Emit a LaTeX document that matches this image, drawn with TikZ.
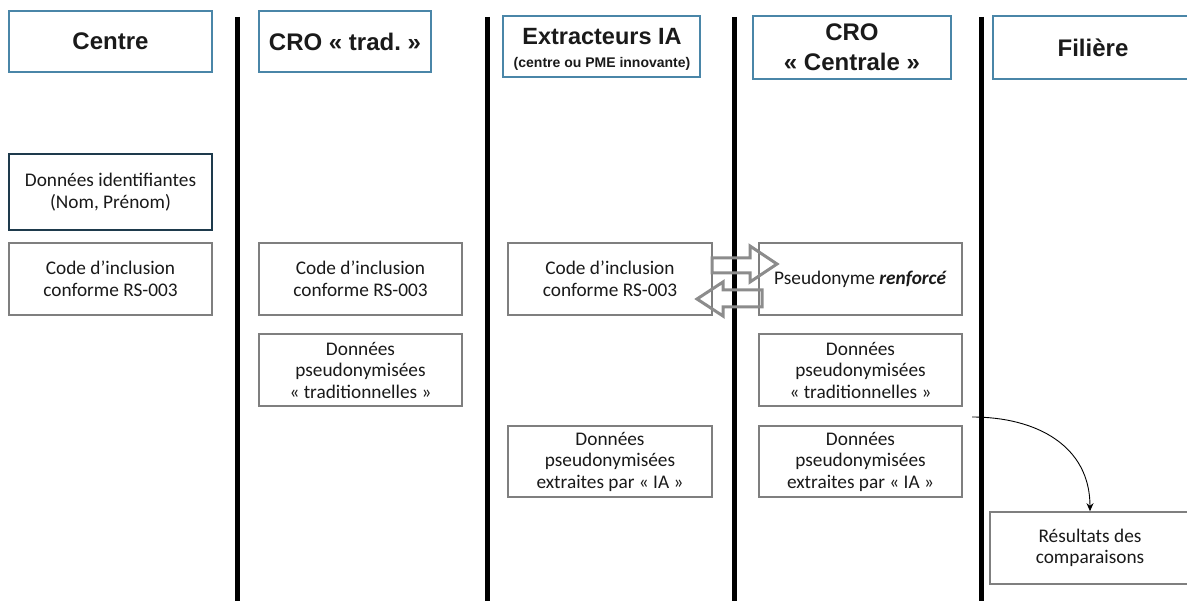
\documentclass[tikz,border=0pt]{standalone}
\usepackage{fontspec}
\setmainfont{Carlito}
\newfontfamily\hfont{Liberation Sans}
\usetikzlibrary{arrows.meta}
\definecolor{hdrblue}{HTML}{4A86A8}
\definecolor{boxgray}{HTML}{7F7F7F}
\definecolor{darkslate}{HTML}{1E3A4C}
\definecolor{arrgray}{HTML}{8C8C8C}
\definecolor{txt}{HTML}{1A1A1A}
\tikzset{
  hdr/.style={draw=hdrblue, line width=1.2pt, fill=white, align=center, text=txt,
    font=\hfont\bfseries\fontsize{24}{30}\selectfont, inner sep=0pt},
  cbox/.style={draw=boxgray, line width=1.6pt, minimum width=203pt, minimum height=72pt,
    align=center, text=txt, font=\fontsize{19.3}{21.5}\selectfont, inner sep=0pt},
  lane/.style={line width=5pt, black},
  blockarr/.style={draw=arrgray, line width=3pt, line join=miter},
}
\begin{document}
\begin{tikzpicture}[x=1pt,y=-1pt]
\clip (0,0) rectangle (1187,601);
\fill[white] (0,0) rectangle (1187,601);

% lanes
\coordinate (l1t) at (237,17); \coordinate (l1b) at (237,601);
\coordinate (l2t) at (487,17); \coordinate (l2b) at (487,601);
\coordinate (l3t) at (734,17); \coordinate (l3b) at (734,601);
\coordinate (l4t) at (981,17); \coordinate (l4b) at (981,601);
\draw[lane] (l1t) -- (l1b);
\draw[lane] (l2t) -- (l2b);
\draw[lane] (l3t) -- (l3b);
\draw[lane] (l4t) -- (l4b);

% headers
\node[hdr, minimum width=203pt, minimum height=61pt] (hC) at (110.5,41.5) {Centre};
\node[hdr, minimum width=172pt, minimum height=61pt] (hT) at (345,41.5) {CRO «~trad.~»};
\node[hdr, minimum width=197pt, minimum height=61pt] (hE) at (601.5,46.5) {};
\node[font=\hfont\bfseries\fontsize{23.5}{28}\selectfont, text=txt] (hEa) at (602,37) {Extracteurs IA};
\node[font=\hfont\bfseries\fontsize{14}{16}\selectfont, text=txt] (hEb) at (602,64) {(centre ou PME innovante)};
\node[hdr, minimum width=198pt, minimum height=63pt] (hCC) at (852,47.5) {CRO\\«~Centrale~»};
\node[hdr, minimum width=200pt, minimum height=63pt] (hF) at (1093,47.5) {Filière};

% content boxes
\node[cbox, draw=darkslate, minimum height=76pt] (dI) at (110.5,192) {Données identifiantes\\(Nom, Prénom)};
\node[cbox] (c1) at (110.5,279) {Code d’inclusion\\conforme RS-003};
\node[cbox] (c2) at (360.5,279) {Code d’inclusion\\conforme RS-003};
\node[cbox] (t2) at (360.5,370) {Données\\pseudonymisées\\«~traditionnelles~»};
\node[cbox, minimum width=204pt] (c3) at (610,279) {Code d’inclusion\\conforme RS-003};
\node[cbox, minimum width=204pt, minimum height=71pt] (e3) at (610,461.5) {Données\\pseudonymisées\\extraites par «~IA~»};
\node[cbox] (p4) at (860.5,279) {Pseudonyme \textbf{\textit{renforcé}}};
\node[cbox] (t4) at (860.5,370) {Données\\pseudonymisées\\«~traditionnelles~»};
\node[cbox, minimum height=71pt] (e4) at (860.5,461.5) {Données\\pseudonymisées\\extraites par «~IA~»};
\node[cbox, minimum width=200pt] (r5) at (1090,548) {Résultats des\\comparaisons};

% block arrows between c3 and p4
\draw[blockarr] (712,258) -- (750,258) -- (750,246) -- (777,264) -- (750,282) -- (750,273) -- (712,273) -- cycle;
\draw[blockarr] (762,290) -- (723,290) -- (723,282) -- (697,299) -- (723,316) -- (723,307) -- (762,307) -- cycle;

% curved arrow to results
\coordinate (cs) at (972,417);
\draw[line width=0.9pt, black, -{Stealth[length=8pt,width=7pt]}] (cs) to[out=0,in=90,looseness=1.1] (r5.north);
\end{tikzpicture}
\end{document}
